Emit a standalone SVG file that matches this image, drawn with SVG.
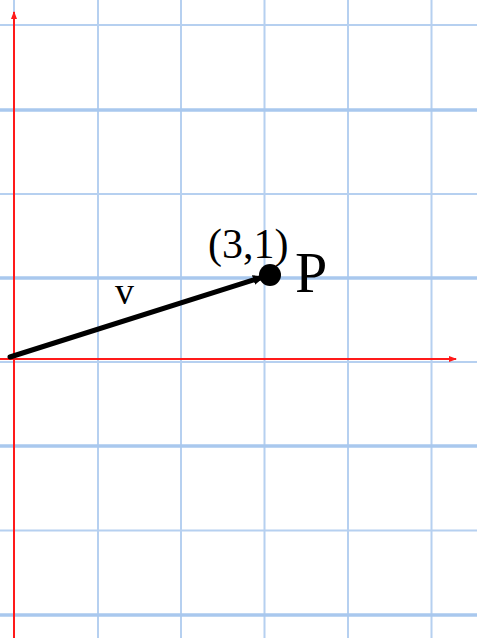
<svg xmlns="http://www.w3.org/2000/svg" width="477" height="638" viewBox="0 0 477 638">
<style>
.g{stroke:#b6d0f0;stroke-width:2;fill:none}
.gt{stroke:#a9c8ee;stroke-width:3.5;fill:none}
.ax{stroke:#ff1a1a;stroke-width:2;fill:none}
.t{font-family:"Liberation Serif","Times New Roman",serif;fill:#000}
</style>
<defs>
<marker id="ra" markerWidth="8" markerHeight="6" refX="7" refY="3" orient="auto" markerUnits="userSpaceOnUse">
<path d="M0,0 L8,3 L0,6 Z" fill="#ff1a1a"/>
</marker>
<marker id="ba" markerWidth="12" markerHeight="10" refX="10" refY="5" orient="auto" markerUnits="userSpaceOnUse">
<path d="M0,0 L12,5 L0,10 Z" fill="#000"/>
</marker>
</defs>
<rect width="477" height="638" fill="#fff"/>
<g id="grid">
<line class="g" x1="14" y1="0" x2="14" y2="638"/>
<line class="g" x1="98" y1="0" x2="98" y2="638"/>
<line class="g" x1="181" y1="0" x2="181" y2="638"/>
<line class="g" x1="264.5" y1="0" x2="264.5" y2="638"/>
<line class="g" x1="348" y1="0" x2="348" y2="638"/>
<line class="g" x1="431.5" y1="0" x2="431.5" y2="638"/>
<line class="g" x1="0" y1="25" x2="477" y2="25"/>
<line class="gt" x1="0" y1="110" x2="477" y2="110"/>
<line class="g" x1="0" y1="194" x2="477" y2="194"/>
<line class="gt" x1="0" y1="278" x2="477" y2="278"/>
<line class="g" x1="0" y1="362" x2="477" y2="362"/>
<line class="gt" x1="0" y1="446" x2="477" y2="446"/>
<line class="g" x1="0" y1="530.5" x2="477" y2="530.5"/>
<line class="gt" x1="0" y1="615" x2="477" y2="615"/>
</g>
<g id="axes">
<line class="ax" x1="14" y1="638" x2="14" y2="12" marker-end="url(#ra)"/>
<line class="ax" x1="0" y1="359" x2="456" y2="359" marker-end="url(#ra)"/>
</g>
<g id="connectors">
<line x1="10" y1="357" x2="263" y2="277" stroke="#000" stroke-width="5" stroke-linecap="round" marker-end="url(#ba)"/>
</g>
<g id="P">
<circle cx="270" cy="275" r="11" fill="#000"/>
<text class="t" x="208" y="258" font-size="42">(3,1)</text>
<text class="t" x="295" y="292" font-size="58">P</text>
</g>
<g id="v">
<text class="t" x="115" y="304" font-size="38">v</text>
</g>
</svg>
